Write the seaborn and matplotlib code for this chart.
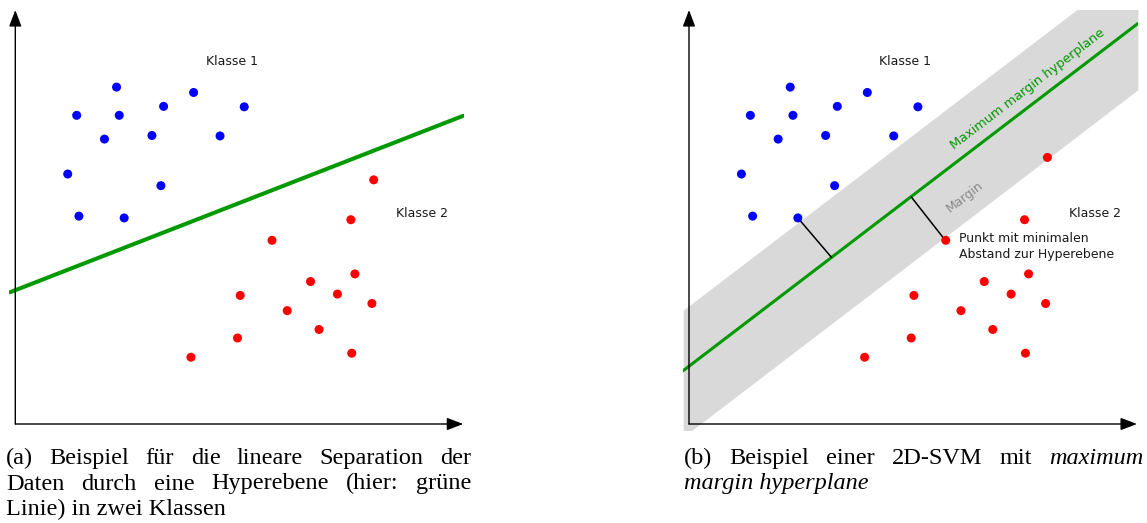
import matplotlib
matplotlib.use("Agg")
import matplotlib.pyplot as plt
import numpy as np
import pandas as pd
import seaborn as sns

# ---------------- data ----------------
blue_x = [2.26, 1.37, 2.32, 3.31, 3.98, 5.11, 1.99, 3.05, 4.57, 1.17, 3.25, 1.42, 2.43]
blue_y = [7.52, 6.89, 6.89, 7.09, 7.40, 7.08, 6.36, 6.44, 6.43, 5.58, 5.32, 4.64, 4.60]
red_x = [8.00, 7.49, 5.73, 7.58, 6.59, 7.19, 5.02, 7.96, 6.07, 6.78, 4.96, 7.51, 3.92]
red_y_a = [5.45, 4.56, 4.10, 3.35, 3.18, 2.90, 2.87, 2.69, 2.53, 2.11, 1.92, 1.58, 1.49]
red_y_b = [5.95, 4.56, 4.10, 3.35, 3.18, 2.90, 2.87, 2.69, 2.53, 2.11, 1.92, 1.58, 1.49]

sep_a_x = [-0.12, 10.0]
sep_a_y = [2.94, 6.88]

hyper_x = [-0.13, 10.02]
hyper_y = [1.19, 8.94]
band_upper = [2.54, 10.29]
band_lower = [-0.29, 7.46]

seg1_x = [2.43, 3.18]
seg1_y = [4.60, 3.72]
seg2_x = [4.96, 5.72]
seg2_y = [5.07, 4.10]

class_labels = ["Klasse 1", "Klasse 2"]
caption_a = ["(a) Beispiel für die lineare Separation der",
             "Daten durch eine Hyperebene (hier: grüne",
             "Linie) in zwei Klassen"]
caption_b1 = [("(b)", "normal"), ("Beispiel", "normal"), ("einer", "normal"),
              ("2D-SVM", "normal"), ("mit", "normal"), ("maximum", "italic")]
caption_b2 = "margin hyperplane"

# ---------------- layout ----------------
W, H = 1147, 523
U = 44.8  # pixels per data unit
XLIM = (-0.13, 10.02)
YLIM = (-0.14, 9.25)

sns.set_style("white")
plt.rcParams["font.family"] = ["DejaVu Sans"]

fig = plt.figure(figsize=(W / 100, H / 100), dpi=100)


def make_axes(ox, oy):
    left = ox + XLIM[0] * U
    right = ox + XLIM[1] * U
    bottom = oy - YLIM[0] * U
    top = oy - YLIM[1] * U
    ax = fig.add_axes([left / W, (H - bottom) / H, (right - left) / W, (bottom - top) / H])
    ax.set_xlim(*XLIM)
    ax.set_ylim(*YLIM)
    return ax


def draw_axes_arrows(ax):
    style = "-|>,head_length=1.0,head_width=0.38"
    for tip in [(10.0, 0.0), (0.0, 9.24)]:
        ax.annotate("", xy=tip, xytext=(0, 0),
                    arrowprops=dict(arrowstyle=style, mutation_scale=10, lw=1.0,
                                    color="black", shrinkA=0, shrinkB=0),
                    annotation_clip=False, zorder=6)


def draw_points(ax, red_y):
    df = pd.DataFrame({
        "x": blue_x + red_x,
        "y": blue_y + red_y,
        "klasse": [class_labels[0]] * len(blue_x) + [class_labels[1]] * len(red_x),
    })
    sns.scatterplot(data=df, x="x", y="y", hue="klasse",
                    palette={class_labels[0]: "#0000ff", class_labels[1]: "#ff0000"},
                    s=42, edgecolor="none", legend=False, ax=ax, zorder=5)


# ---- panel (a) ----
axa = make_axes(15.3, 424)
sns.lineplot(x=sep_a_x, y=sep_a_y, color="#009900", lw=2.9, ax=axa, zorder=3)
draw_points(axa, red_y_a)
axa.text(4.84, 8.09, class_labels[0], fontsize=9, ha="center", va="center", color="#1a1a1a")
axa.text(9.07, 4.70, class_labels[1], fontsize=9, ha="center", va="center", color="#1a1a1a")
draw_axes_arrows(axa)
axa.axis("off")

# ---- panel (b) ----
axb = make_axes(689, 424)
axb.fill_between(hyper_x, band_lower, band_upper, color="#d9d9d9", lw=0, zorder=1)
sns.lineplot(x=hyper_x, y=hyper_y, color="#009900", lw=2.2, ax=axb, zorder=3)
axb.plot(seg1_x, seg1_y, color="black", lw=1.1, zorder=4)
axb.plot(seg2_x, seg2_y, color="black", lw=1.1, zorder=4)
draw_points(axb, red_y_b)
axb.text(4.83, 8.09, class_labels[0], fontsize=9, ha="center", va="center", color="#1a1a1a")
axb.text(9.06, 4.70, class_labels[1], fontsize=9, ha="center", va="center", color="#1a1a1a")
axb.text(6.03, 3.96, "Punkt mit minimalen\nAbstand zur Hyperebene", fontsize=9,
         ha="left", va="center", color="#1a1a1a", linespacing=1.25)
ang = np.degrees(np.arctan2(hyper_y[1] - hyper_y[0], hyper_x[1] - hyper_x[0]))
axb.text(7.57, 7.47, "Maximum margin hyperplane", fontsize=9.3, color="#009900",
         rotation=ang, rotation_mode="anchor", ha="center", va="center")
axb.text(6.16, 5.07, "Margin", fontsize=9, color="#888888",
         rotation=ang, rotation_mode="anchor", ha="center", va="center")
draw_axes_arrows(axb)
axb.axis("off")

# ---------------- captions (justified) ----------------
CAP_FS = 17.5
CAP_FAM = ["Liberation Serif", "DejaVu Serif"]
renderer = fig.canvas.get_renderer()


def justified(words, styles, x0, x1, ybase):
    texts = [fig.text(0, (H - ybase) / H, w, fontsize=CAP_FS, family=CAP_FAM,
                      style=s, ha="left", va="baseline", color="#000000")
             for w, s in zip(words, styles)]
    widths = [t.get_window_extent(renderer).width for t in texts]
    gap = (x1 - x0 - sum(widths)) / (len(words) - 1)
    x = x0
    for t, wd in zip(texts, widths):
        t.set_x(x / W)
        x += wd + gap


def plain(text, x0, ybase, style="normal"):
    fig.text(x0 / W, (H - ybase) / H, text, fontsize=CAP_FS, family=CAP_FAM,
             style=style, ha="left", va="baseline", color="#000000")


justified(caption_a[0].split(), ["normal"] * len(caption_a[0].split()), 6, 471, 464)
justified(caption_a[1].split(), ["normal"] * len(caption_a[1].split()), 6, 471, 489.5)
plain(caption_a[2], 6, 515)

justified([w for w, s in caption_b1], [s for w, s in caption_b1], 683.5, 1143, 464)
plain(caption_b2, 683.5, 489.5, style="italic")

fig.savefig("out.png", dpi=100)
